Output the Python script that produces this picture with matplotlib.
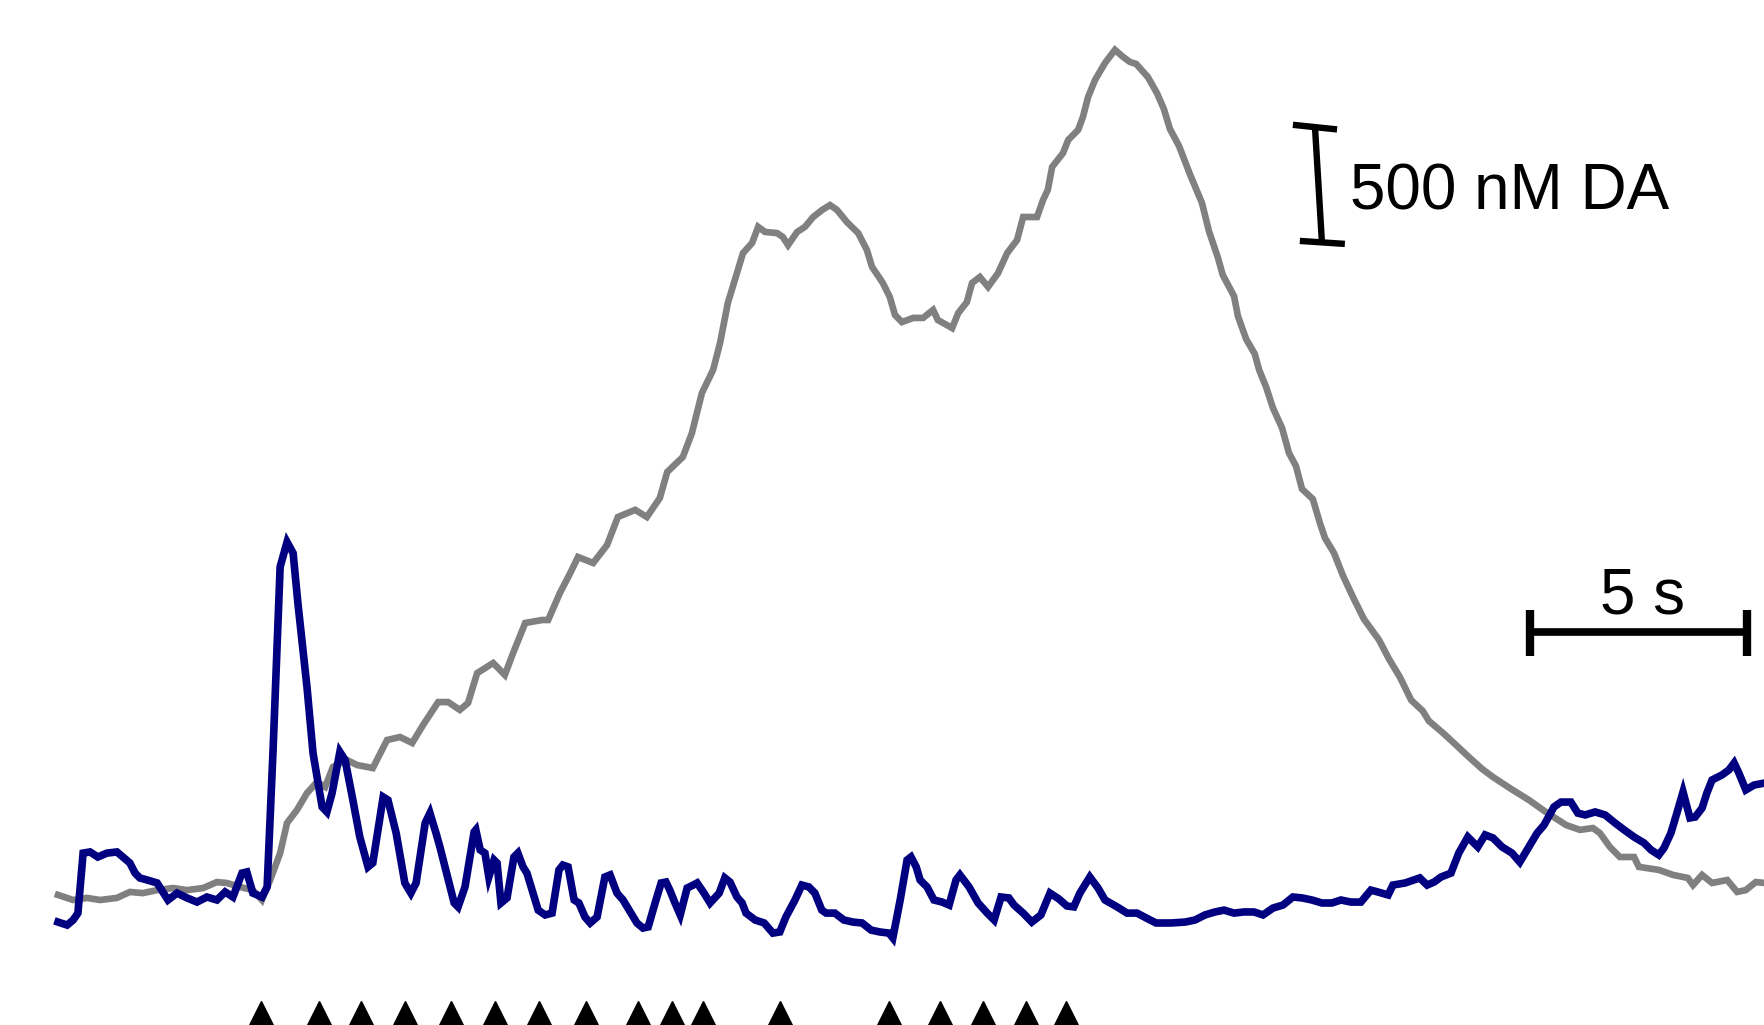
import matplotlib
matplotlib.use("Agg")
import matplotlib.pyplot as plt

plt.rcParams['font.family'] = ['Liberation Sans', 'DejaVu Sans']

# Gray trace: time (s) and dopamine concentration (nM)
gray_t = [0.00, 0.35, 0.67, 0.97, 1.36, 1.66, 1.96, 2.29, 2.66, 2.98, 3.35, 3.67, 3.90, 4.20, 4.50,
          4.71, 4.90, 5.13, 5.29, 5.52, 5.75, 5.98, 6.17, 6.35, 6.67, 6.91, 7.27, 7.60, 7.90, 8.18,
          8.43, 8.78, 9.01, 9.28, 9.47, 9.68, 10.05, 10.32, 10.51, 10.79, 11.18, 11.32, 11.59, 11.83,
          12.01, 12.36, 12.68, 12.93, 13.33, 13.60, 13.90, 14.07, 14.43, 14.64, 14.87, 15.13, 15.29,
          15.47, 15.68, 15.82, 16.03, 16.17, 16.33, 16.61, 16.74, 16.86, 17.07, 17.25, 17.44, 17.65,
          17.83, 17.99, 18.22, 18.48, 18.68, 18.80, 19.05, 19.21, 19.33, 19.49, 19.75, 19.98, 20.21,
          20.32, 20.65, 20.79, 20.99, 21.11, 21.29, 21.48, 21.71, 21.92, 22.15, 22.29, 22.61, 22.75,
          22.86, 22.96, 23.21, 23.33, 23.56, 23.67, 23.79, 23.95, 24.18, 24.41, 24.60, 24.76, 24.90,
          25.17, 25.38, 25.54, 25.68, 25.89, 26.14, 26.42, 26.58, 26.79, 26.90, 27.16, 27.25, 27.44,
          27.64, 27.74, 27.90, 28.06, 28.27, 28.43, 28.59, 28.73, 28.98, 29.15, 29.26, 29.47, 29.68,
          29.93, 30.16, 30.51, 30.74, 30.99, 31.25, 31.52, 31.66, 31.99, 32.26, 32.56, 32.89, 33.14,
          33.56, 33.97, 34.36, 34.83, 35.15, 35.45, 35.61, 35.84, 36.07, 36.40, 36.51, 36.97, 37.30,
          37.64, 37.76, 37.97, 38.20, 38.55, 38.78, 38.98, 39.21, 39.42]
gray_nM = [22, 0, 9, 0, 9, 35, 30, 43, 52, 43, 52, 78, 74, 57, 43,
           0, 87, 204, 335, 392, 465, 513, 492, 579, 609, 587, 574, 696, 709, 683,
           761, 861, 861, 827, 857, 987, 1031, 979, 1074, 1205, 1218, 1218, 1335, 1422,
           1492, 1466, 1544, 1666, 1697, 1666, 1749, 1862, 1927, 2031, 2205, 2306, 2423,
           2597, 2727, 2814, 2858, 2928, 2906, 2901, 2884, 2849, 2906, 2928, 2971, 3002,
           3023, 3002, 2949, 2901, 2828, 2754, 2684, 2623, 2545, 2514, 2532, 2532, 2567,
           2523, 2488, 2553, 2601, 2684, 2710, 2667, 2727, 2814, 2871, 2971, 2971, 3045,
           3089, 3189, 3249, 3306, 3350, 3406, 3493, 3567, 3641, 3698, 3667, 3645, 3637,
           3580, 3510, 3441, 3354, 3280, 3158, 3032, 2910, 2793, 2719, 2627, 2540, 2440,
           2375, 2306, 2232, 2140, 2053, 1944, 1888, 1788, 1744, 1636, 1575, 1509, 1409,
           1309, 1222, 1131, 1048, 970, 870, 822, 779, 726, 679, 626, 570, 535,
           483, 435, 383, 326, 305, 313, 291, 231, 187, 187, 144, 131, 109,
           96, 65, 109, 74, 87, 35, 43, 78, 74]

# Navy trace: time (s) and dopamine concentration (nM)
navy_t = [0.00, 0.21, 0.35, 0.46, 0.58, 0.74, 0.92, 1.13, 1.36, 1.50, 1.66, 1.78, 1.89, 2.06, 2.29,
          2.42, 2.54, 2.75, 2.98, 3.21, 3.44, 3.67, 3.86, 4.04, 4.25, 4.36, 4.50, 4.71, 4.83, 4.97,
          5.13, 5.29, 5.43, 5.54, 5.75, 5.89, 6.10, 6.21, 6.33, 6.51, 6.63, 6.81, 6.97, 7.16, 7.27,
          7.51, 7.62, 7.81, 8.01, 8.15, 8.27, 8.48, 8.59, 8.73, 8.82, 9.15, 9.24, 9.40, 9.61, 9.65,
          9.75, 9.86, 9.95, 10.07, 10.14, 10.23, 10.37, 10.53, 10.62, 10.74, 10.83, 11.09, 11.25,
          11.41, 11.57, 11.66, 11.78, 11.92, 12.03, 12.17, 12.29, 12.45, 12.63, 12.75, 12.91, 13.05,
          13.37, 13.51, 13.63, 13.79, 13.93, 14.04, 14.13, 14.25, 14.37, 14.53, 14.67, 14.76, 14.92,
          15.06, 15.27, 15.40, 15.52, 15.68, 15.80, 15.89, 16.10, 16.31, 16.51, 16.67, 16.81, 17.02,
          17.18, 17.34, 17.48, 17.64, 17.74, 17.94, 18.15, 18.36, 18.57, 18.78, 18.98, 19.19, 19.28,
          19.45, 19.61, 19.70, 19.82, 19.91, 20.07, 20.23, 20.42, 20.58, 20.74, 20.83, 21.04, 21.25,
          21.46, 21.62, 21.78, 21.96, 22.08, 22.29, 22.49, 22.70, 22.91, 23.12, 23.30, 23.46, 23.60,
          23.83, 24.02, 24.18, 24.46, 24.69, 24.92, 25.13, 25.36, 25.70, 26.03, 26.26, 26.49, 26.72,
          26.93, 27.16, 27.39, 27.62, 27.83, 28.06, 28.29, 28.52, 28.73, 28.96, 29.19, 29.42, 29.63,
          29.86, 30.09, 30.32, 30.48, 30.72, 30.83, 31.11, 31.45, 31.62, 31.78, 31.94, 32.17, 32.35,
          32.56, 32.79, 32.96, 33.14, 33.35, 33.58, 33.76, 33.97, 34.16, 34.32, 34.55, 34.71, 34.94,
          35.10, 35.27, 35.50, 35.73, 35.96, 36.17, 36.40, 36.63, 36.79, 36.97, 37.09, 37.25, 37.41,
          37.53, 37.69, 37.81, 37.97, 38.08, 38.20, 38.43, 38.59, 38.71, 38.82, 38.98, 39.17, 39.42]
navy_nM = [-96, -109, -87, -57, 204, 209, 187, 204, 209, 187, 161, 117, 96, 87, 74,
           35, 0, 30, 9, -9, 13, 0, 35, 13, 117, 122, 30, 13, 57, 666,
           1449, 1557, 1509, 1292, 927, 639, 405, 383, 465, 644, 609, 435, 274, 144, 161,
           448, 435, 291, 74, 30, 74, 335, 378, 291, 231, -13, -30, 57, 296, 305,
           218, 204, 100, 174, 161, -13, 9, 187, 204, 144, 117, -44, -65,
           -57, 131, 152, 144, 0, -13, -74, -100, -74, 100, 109, 30, 0,
           -100, -122, -117, -13, 74, 78, 43, -13, -65, 52, 65, 74, 30,
           -13, 30, 96, 78, 13, -13, -57, -87, -100, -144, -139, -74, 0,
           65, 57, 30, -44, -57, -57, -87, -96, -100, -131, -139, -144, -165,
           0, 174, 187, 144, 87, 57, 0, -9, -22, 87, 109, 57, -13,
           -57, -87, 13, 9, -22, -57, -96, -65, 30, 4, -26, -30, 30,
           100, 52, 0, -30, -57, -57, -78, -100, -100, -96, -87, -65, -52,
           -44, -57, -52, -52, -65, -35, -22, 13, 9, 0, -13, -13, 0,
           -9, -9, 43, 35, 22, 65, 74, 96, 65, 78, 100, 117, 204,
           274, 231, 283, 270, 231, 204, 165, 231, 291, 326, 405, 426, 426,
           378, 370, 383, 370, 335, 305, 274, 248, 218, 196, 226, 291, 392,
           470, 357, 361, 400, 465, 522, 544, 566, 596, 552, 479, 500, 509]

# Stimulus times (s)
stim_t = [4.69, 6.03, 7.00, 8.01, 9.08, 10.09, 11.11, 12.19, 13.39, 14.18, 14.90,
          16.67, 19.19, 20.37, 21.36, 22.36, 23.28]

# Scale bars
conc_bar_nM = 500
conc_label = "500 nM DA"
time_bar_s = 5
time_label = "5 s"

fig = plt.figure(figsize=(17.64, 10.25), dpi=100)
ax = fig.add_axes([0, 0, 1, 1])
ax.set_xlim(-1.3395, 39.40)
ax.set_ylim(-543.75, 3915)
ax.axis('off')

ax.plot(gray_t, gray_nM, color='#808080', lw=4.8, solid_joinstyle='miter', zorder=2)
ax.plot(navy_t, navy_nM, color='#000080', lw=5.5, solid_joinstyle='miter', zorder=3)

ax.plot(stim_t, [-492] * len(stim_t), linestyle='none', marker='^', ms=17,
        color='black', clip_on=False, zorder=4)

# Concentration scale bar (slightly tilted, as drawn by hand)
cb_base = 2862
cb_x0, cb_x1 = 29.19, 29.03
ax.plot([cb_x0, cb_x1], [cb_base, cb_base + conc_bar_nM], color='black', lw=4.6,
        solid_capstyle='butt')
ax.plot([cb_x1 - 0.51, cb_x1 + 0.51], [cb_base + conc_bar_nM + 10, cb_base + conc_bar_nM - 10],
        color='black', lw=4.6, solid_capstyle='butt')
ax.plot([cb_x0 - 0.51, cb_x0 + 0.53], [cb_base + 5, cb_base - 8],
        color='black', lw=4.6, solid_capstyle='butt')
ax.text(29.84, 3002, conc_label, fontsize=46, ha='left', va='baseline', color='black')

# Time scale bar
tb_start = 34.0
tb_y = 1166
ax.plot([tb_start, tb_start + time_bar_s], [tb_y, tb_y], color='black', lw=5.5,
        solid_capstyle='butt')
for xe in (tb_start, tb_start + time_bar_s):
    ax.plot([xe, xe], [tb_y - 105, tb_y + 95], color='black', lw=6, solid_capstyle='butt')
ax.text(tb_start + time_bar_s / 2 + 0.1, 1248, time_label, fontsize=46, ha='center',
        va='baseline', color='black')

fig.savefig('out.png', dpi=100)
